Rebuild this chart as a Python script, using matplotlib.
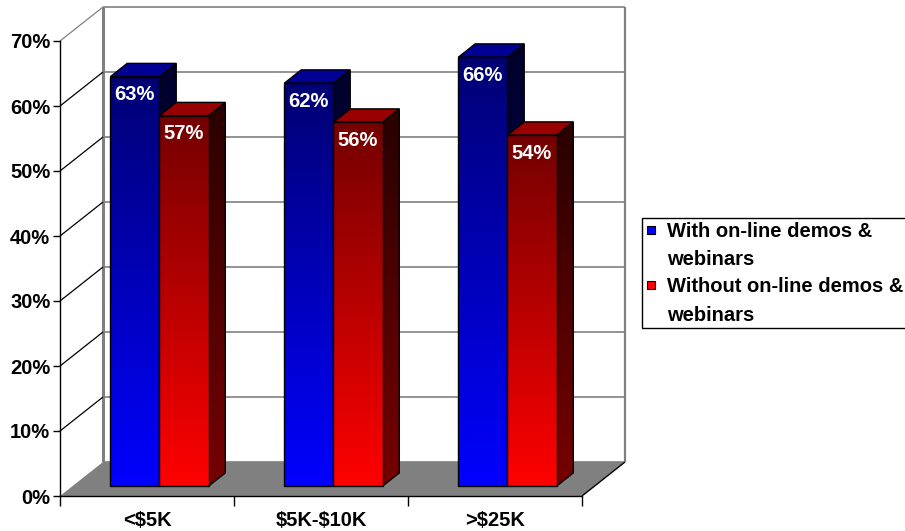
import numpy as np
import matplotlib
matplotlib.use("Agg")
import matplotlib.pyplot as plt
from matplotlib.patches import Polygon, Rectangle
from matplotlib.ticker import FixedLocator, FuncFormatter

plt.rcParams['font.family'] = ['Liberation Sans', 'DejaVu Sans']
plt.rcParams['font.weight'] = 'bold'
plt.rcParams['text.parse_math'] = False

# data
categories = ['<$5K', '$5K-$10K', '>$25K']
with_demos = [63, 62, 66]
without_demos = [57, 56, 54]
series_names = ['With on-line demos &\nwebinars', 'Without on-line demos &\nwebinars']
series_colors = [(0.0, 0.0, 1.0), (1.0, 0.0, 0.0)]

W, H = 905, 531
fig = plt.figure(figsize=(W / 100, H / 100), dpi=100)
ax = fig.add_axes([60 / W, 35 / H, 522 / W, 455 / H])
ax.set_xlim(0, 3)
ax.set_ylim(0, 70)

# depth of the 3-d box, in data units
ddx = 43 / 174
ddy = 34 / 6.5
f0, f1 = 0.29, 0.68      # bar front / back depth fraction
bw = 0.282               # bar width (category units)
gray = '#808080'

def line(xs, ys, **kw):
    ax.plot(xs, ys, clip_on=False, solid_capstyle='butt', **kw)

# back wall gridlines and edges
for y in range(0, 71, 10):
    line([ddx, 3 + ddx], [y + ddy, y + ddy], color=gray, lw=1.2, zorder=1)
line([ddx, ddx], [ddy, 70 + ddy], color=gray, lw=2.2, zorder=1)
line([3 + ddx, 3 + ddx], [ddy, 70 + ddy], color=gray, lw=1.6, zorder=1)

# side wall diagonals
for y in range(10, 71, 10):
    line([0, ddx], [y, y + ddy], color=gray if y == 70 else 'black', lw=0.9, zorder=1)

# floor
ax.add_patch(Polygon([(0, 0), (3, 0), (3 + ddx, ddy), (ddx, ddy)], closed=True,
                     facecolor=gray, edgecolor='none', zorder=2, clip_on=False))
line([3, 3 + ddx], [0, ddy], color='black', lw=1, zorder=2)


def gradient_face(verts, c, top_k, bot_k, z):
    poly = Polygon(verts, closed=True, facecolor='none', edgecolor='black',
                   lw=1, zorder=z + 0.5, clip_on=False)
    ax.add_patch(poly)
    xs = [v[0] for v in verts]
    ys = [v[1] for v in verts]
    k = np.linspace(bot_k, top_k, 256)[:, None, None]
    img = np.ones((256, 2, 3)) * np.array(c)[None, None, :] * k
    im = ax.imshow(img, extent=[min(xs), max(xs), min(ys), max(ys)],
                   origin='lower', aspect='auto', interpolation='bilinear', zorder=z)
    im.set_clip_path(poly)


def bar3d(x0, v, c, top_shade, z):
    bx = x0 + f0 * ddx
    by = f0 * ddy
    dx = (f1 - f0) * ddx
    dy = (f1 - f0) * ddy
    # side face
    gradient_face([(bx + bw, by), (bx + bw + dx, by + dy),
                   (bx + bw + dx, by + v + dy), (bx + bw, by + v)], c, 0.16, 0.47, z)
    # top face
    ax.add_patch(Polygon([(bx, by + v), (bx + bw, by + v), (bx + bw + dx, by + v + dy),
                          (bx + dx, by + v + dy)], closed=True,
                         facecolor=tuple(ch * top_shade for ch in c), edgecolor='black',
                         lw=1, zorder=z + 0.6, clip_on=False))
    # front face
    gradient_face([(bx, by), (bx + bw, by), (bx + bw, by + v), (bx, by + v)], c, 0.45, 1.0, z + 1)
    ax.text(bx + bw / 2, by + v - 2.8, f'{v}%', color='white', fontsize=14.5,
            fontweight='bold', ha='center', va='center', zorder=z + 2)


z = 3
for i in range(len(categories)):
    center = i + 0.5
    bar3d(center - bw, with_demos[i], series_colors[0], 0.58, z)
    z += 3
    bar3d(center, without_demos[i], series_colors[1], 0.6, z)
    z += 3

ax.set_xlim(0, 3)
ax.set_ylim(0, 70)

# axes
for s in ['top', 'right']:
    ax.spines[s].set_visible(False)
for s in ['left', 'bottom']:
    ax.spines[s].set_linewidth(1)
    ax.spines[s].set_zorder(50)
ax.set_yticks(range(0, 71, 10))
ax.yaxis.set_major_formatter(FuncFormatter(lambda v, p: f'{int(v)}%'))
ax.tick_params(axis='y', direction='out', length=5, width=1, pad=2, labelsize=14.5)
ax.xaxis.set_major_locator(FixedLocator([0, 1, 2, 3]))
ax.xaxis.set_minor_locator(FixedLocator([0.5, 1.5, 2.5]))
ax.set_xticklabels([])
ax.set_xticklabels(categories, minor=True)
ax.tick_params(axis='x', which='major', direction='out', length=7, width=1)
ax.tick_params(axis='x', which='minor', length=0, pad=10.5, labelsize=14.5)
ax.set_facecolor('none')

# legend box
fig.add_artist(Rectangle((642 / W, 1 - 328 / H), 300 / W, 110 / H, transform=fig.transFigure,
                         facecolor='white', edgecolor='black', lw=1))
baselines = [(237, 265), (292, 321)]
sq_top = [226, 281]
for name, c, bl, st in zip(series_names, series_colors, baselines, sq_top):
    fig.add_artist(Rectangle((647 / W, 1 - (st + 8) / H), 8 / W, 8 / H,
                             transform=fig.transFigure, facecolor=c, edgecolor='black', lw=0.8))
    for txt, b in zip(name.split('\n'), bl):
        fig.text(667 / W, 1 - b / H, txt, fontsize=14.5, fontweight='bold', va='baseline')

fig.savefig('out.png', dpi=100)
